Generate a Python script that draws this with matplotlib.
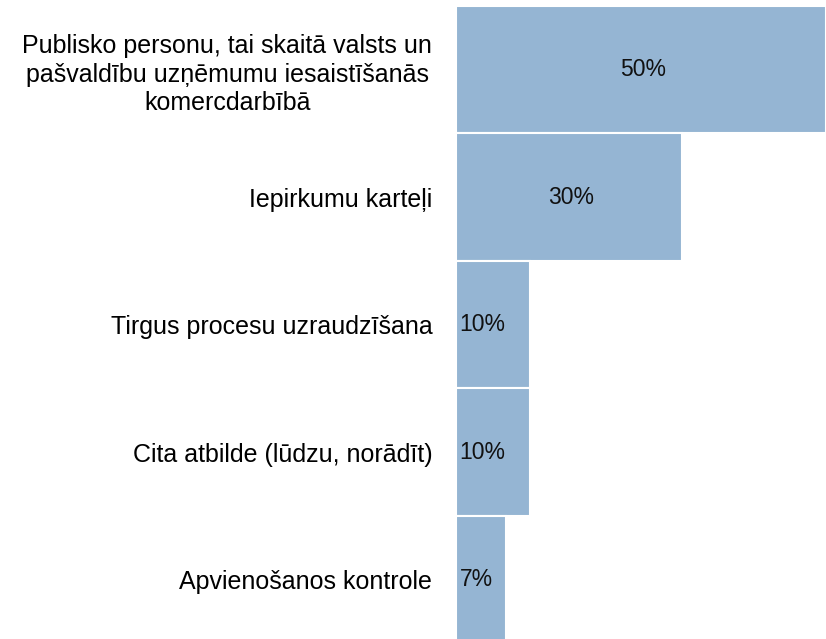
import matplotlib
matplotlib.use("Agg")
import matplotlib.pyplot as plt

plt.rcParams['font.family'] = ['Liberation Sans', 'DejaVu Sans']

categories = [
    "Publisko personu, tai skaitā valsts un\npašvaldību uzņēmumu iesaistīšanās\nkomercdarbībā",
    "Iepirkumu karteļi",
    "Tirgus procesu uzraudzīšana",
    "Cita atbilde (lūdzu, norādīt)",
    "Apvienošanos kontrole",
]
values = [50, 30.5, 10, 10, 6.8]
value_labels = ["50%", "30%", "10%", "10%", "7%"]

fig = plt.figure(figsize=(8.26, 6.39), dpi=100)
# bars run off the bottom edge a little, like the original
ax = fig.add_axes([0.552, -0.007, 0.448, 0.9976])

ypos = list(range(len(categories)))
ax.barh(ypos, values, height=1.0, color='#95b5d3', edgecolor='white', linewidth=1.5)

ax.set_xlim(0, 50)
ax.set_ylim(len(categories) - 0.5, -0.5)

ax.set_yticks(ypos)
ax.set_yticklabels(categories, fontsize=18, multialignment='center', linespacing=1.24)
ax.tick_params(axis='y', length=0, pad=17)
ax.set_xticks([])
for s in ax.spines.values():
    s.set_visible(False)

for y, v, lab in zip(ypos, values, value_labels):
    if v > 20:
        ax.text(v / 2 + 0.3, y, lab, ha='center', va='center', fontsize=16.5, color='#111111')
    else:
        ax.text(0.5, y, lab, ha='left', va='center', fontsize=16.5, color='#111111')

fig.savefig("out.png", dpi=100)
